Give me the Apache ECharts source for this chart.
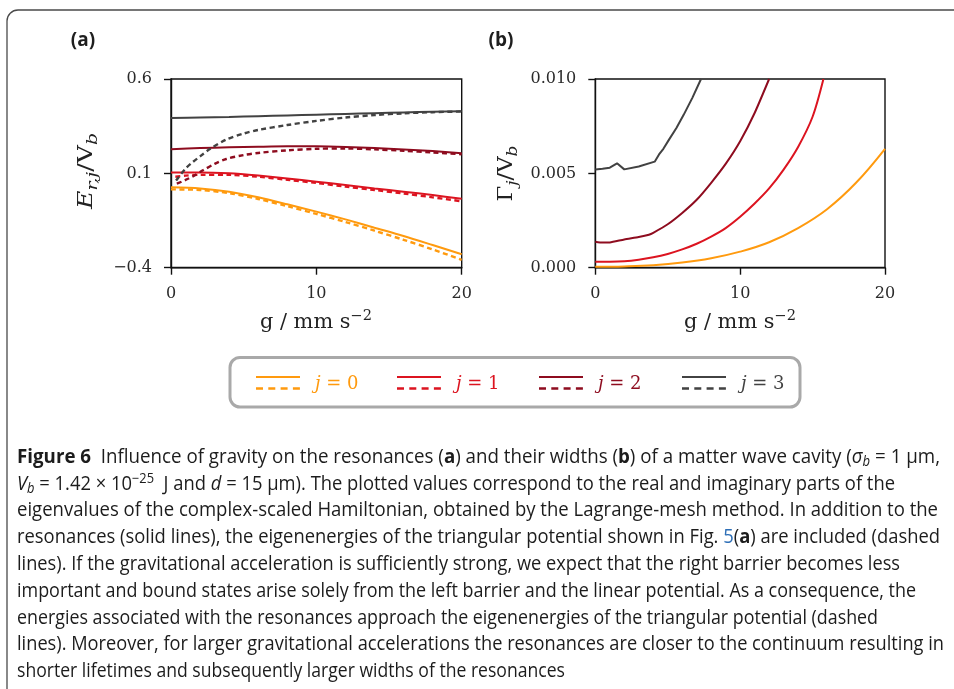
<!DOCTYPE html>
<html>
<head>
<meta charset="utf-8">
<script src="https://cdn.jsdelivr.net/npm/echarts@6/dist/echarts.min.js"></script>
<style>
  html, body { margin: 0; padding: 0; background: #fff; }
  #main { width: 954px; height: 689px; }
</style>
</head>
<body>
<div id="main"></div>
<script>
// ---- Panel (a): real parts E_{r,j}/V_b versus g (mm s^-2) ----
const gA = [0, 2, 4, 6, 8, 10, 12, 14, 16, 18, 20];
const e0Res = [0.026, 0.020, 0.003, -0.027, -0.064, -0.103, -0.144, -0.188, -0.232, -0.280, -0.329];
const e0Tri = [0.015, 0.012, -0.005, -0.036, -0.074, -0.115, -0.158, -0.204, -0.252, -0.303, -0.358];
const e1Res = [0.104, 0.105, 0.100, 0.088, 0.073, 0.056, 0.038, 0.020, 0.003, -0.015, -0.035];
const e2Res = [0.228, 0.234, 0.238, 0.241, 0.243, 0.243, 0.240, 0.234, 0.227, 0.218, 0.207];
const e3Res = [0.393, 0.396, 0.399, 0.403, 0.407, 0.411, 0.415, 0.419, 0.423, 0.426, 0.429];

const gTri1 = [0.3, 1, 2, 4, 6, 8, 10, 12, 14, 16, 18, 20];
const e1Tri = [0.082, 0.088, 0.092, 0.092, 0.082, 0.066, 0.049, 0.030, 0.012, -0.007, -0.027, -0.048];
const gTri2 = [0.4, 1, 1.5, 2.2, 3, 3.8, 5, 6, 8, 10, 12, 14, 16, 18, 20];
const e2Tri = [0.045, 0.065, 0.084, 0.116, 0.150, 0.176, 0.197, 0.208, 0.222, 0.230, 0.232, 0.227, 0.220, 0.211, 0.201];
const gTri3 = [0.35, 1, 1.5, 2, 2.7, 3.8, 5, 6, 8, 10, 12, 14, 16, 18, 20];
const e3Tri = [0.062, 0.125, 0.160, 0.190, 0.230, 0.279, 0.311, 0.330, 0.356, 0.378, 0.396, 0.409, 0.418, 0.424, 0.428];

// ---- Panel (b): widths Gamma_j/V_b versus g ----
const gW0 = [0, 2, 4, 6, 8, 10, 12, 14, 16, 18, 20];
const w0 = [0.00005, 0.00007, 0.00013, 0.00027, 0.0005, 0.00085, 0.00135, 0.0021, 0.0031, 0.0045, 0.0063];
const gW1 = [0, 1, 2, 3, 4, 5, 6, 7, 8, 9, 10, 11, 12, 13, 14, 15, 15.75];
const w1 = [0.00032, 0.00032, 0.00034, 0.00042, 0.00055, 0.00073, 0.00097, 0.00127, 0.00165, 0.0021, 0.0027, 0.0034, 0.0042, 0.0052, 0.0064, 0.0080, 0.0100];
const gW2 = [0, 0.5, 1, 2, 3, 3.7, 4, 5, 6, 7, 8, 9, 10, 11, 12];
const w2 = [0.00138, 0.00133, 0.00134, 0.0015, 0.00163, 0.00175, 0.00185, 0.0023, 0.0029, 0.0036, 0.0045, 0.0055, 0.0067, 0.0082, 0.0100];
const gW3 = [0, 0.5, 1, 1.5, 2, 3, 4.1, 4.4, 4.7, 5.1, 5.6, 6.1, 6.7, 7.3];
const w3 = [0.00521, 0.00524, 0.0053, 0.00553, 0.00521, 0.00536, 0.00562, 0.0060, 0.0063, 0.0068, 0.0074, 0.0081, 0.009, 0.0100];

// ---- Axis ticks ----
const xTicks = [0, 10, 20];
const yTicksA = [-0.4, 0.1, 0.6];
const yTicksB = [0.000, 0.005, 0.010];

// ---- Legend entries ----
const levels = ['0', '1', '2', '3'];
const colors = ['#ff9a0e', '#dc1420', '#8e0c1f', '#424242'];

// ---- Caption ----
const captionLines = [
  '{b|Figure 6}  Influence of gravity on the resonances ({b|a}) and their widths ({b|b}) of a matter wave cavity ({i|σ}{sub|b} = 1 μm,',
  '{i|V}{sub|b} = 1.42 × 10{sup|−25}  J and {i|d} = 15 μm). The plotted values correspond to the real and imaginary parts of the',
  'eigenvalues of the complex-scaled Hamiltonian, obtained by the Lagrange-mesh method. In addition to the',
  'resonances (solid lines), the eigenenergies of the triangular potential shown in Fig. {link|5}({b|a}) are included (dashed',
  'lines). If the gravitational acceleration is sufficiently strong, we expect that the right barrier becomes less',
  'important and bound states arise solely from the left barrier and the linear potential. As a consequence, the',
  'energies associated with the resonances approach the eigenenergies of the triangular potential (dashed',
  'lines). Moreover, for larger gravitational accelerations the resonances are closer to the continuum resulting in',
  'shorter lifetimes and subsequently larger widths of the resonances'
];
const captionRight = [940, 895, 938, 940, 900, 916, 878, 944, 565];

const pair = (xs, ys) => xs.map((x, i) => [x, ys[i]]);

const chart = echarts.init(document.getElementById('main'), null, { renderer: 'canvas' });

const serifFont = 'DejaVu Serif';
const tickLabel = (digits) => ({
  fontFamily: serifFont, fontSize: 16, color: '#2a2a2a',
  formatter: (v) => v.toFixed(digits).replace('-', '\u2212')
});

function xAxisFor(gridIndex) {
  return {
    type: 'value', gridIndex, min: 0, max: 20, interval: 10,
    axisLine: { show: true, onZero: false, lineStyle: { color: '#111', width: 1.4 } },
    axisTick: { show: true, length: 7, lineStyle: { color: '#111', width: 1.4 } },
    axisLabel: Object.assign({ margin: 18 }, tickLabel(0)),
    splitLine: { show: false }
  };
}
function yAxisFor(gridIndex, min, max, ticks, digits) {
  return {
    type: 'value', gridIndex, min, max,
    axisLine: { show: true, onZero: false, lineStyle: { color: '#111', width: 1.4 } },
    axisTick: { show: true, length: 7, customValues: ticks, lineStyle: { color: '#111', width: 1.4 } },
    axisLabel: Object.assign({ margin: 19, customValues: ticks }, tickLabel(digits)),
    splitLine: { show: false }
  };
}

function lineSeries(name, xi, data, color, dashed, smooth) {
  return {
    type: 'line', name, xAxisIndex: xi, yAxisIndex: xi,
    data, showSymbol: false, symbol: 'none', smooth: smooth, clip: true,
    lineStyle: { color, width: dashed ? 2.4 : 2, type: dashed ? [5, 3.5] : 'solid' },
    z: dashed ? 3 : 2
  };
}

const series = [
  lineSeries('j=0', 0, pair(gA, e0Res), colors[0], false, 0.3),
  lineSeries('j=0 tri', 0, pair(gA, e0Tri), colors[0], true, 0.3),
  lineSeries('j=1', 0, pair(gA, e1Res), colors[1], false, 0.3),
  lineSeries('j=1 tri', 0, pair(gTri1, e1Tri), colors[1], true, 0.3),
  lineSeries('j=2', 0, pair(gA, e2Res), colors[2], false, 0.3),
  lineSeries('j=2 tri', 0, pair(gTri2, e2Tri), colors[2], true, 0.3),
  lineSeries('j=3', 0, pair(gA, e3Res), colors[3], false, 0.3),
  lineSeries('j=3 tri', 0, pair(gTri3, e3Tri), colors[3], true, 0.3),
  lineSeries('w0', 1, pair(gW0, w0), colors[0], false, 0.4),
  lineSeries('w1', 1, pair(gW1, w1), colors[1], false, 0.3),
  lineSeries('w2', 1, pair(gW2, w2), colors[2], false, 0.2),
  lineSeries('w3', 1, pair(gW3, w3), colors[3], false, false)
];

// width of a rich string, measured token by token
const measureCtx = document.createElement('canvas').getContext('2d');
function fontOf(s) {
  return (s.fontStyle || 'normal') + ' ' + (s.fontWeight || 400) + ' ' + s.fontSize + 'px "' + s.fontFamily + '"';
}
function richWidth(t, base, rich) {
  const re = /\{(\w+)\|([^}]*)\}/g;
  let last = 0, w = 0, m;
  const add = (txt, font) => { measureCtx.font = font; w += measureCtx.measureText(txt).width; };
  while ((m = re.exec(t)) !== null) {
    if (m.index > last) add(t.slice(last, m.index), fontOf(base));
    add(m[2], fontOf(Object.assign({}, base, rich[m[1]])));
    last = re.lastIndex;
  }
  if (last < t.length) add(t.slice(last), fontOf(base));
  return w || 1;
}

// Rich styles for math-like labels
const mathBase = { fontFamily: serifFont, fontSize: 20 };
const mathRich = {
  it: { fontFamily: serifFont, fontStyle: 'italic', fontSize: 20, lineHeight: 28 },
  rm: { fontFamily: serifFont, fontSize: 20, lineHeight: 28 },
  sub: { fontFamily: serifFont, fontStyle: 'italic', fontSize: 15, lineHeight: 14, verticalAlign: 'bottom' },
  sup: { fontFamily: serifFont, fontSize: 14, lineHeight: 14, verticalAlign: 'top' }
};
function mathLabel(text, x, y, length, vertical) {
  const sx = length / richWidth(text, mathBase, mathRich);
  return {
    type: 'text', x, y, rotation: vertical ? Math.PI / 2 : 0, scaleX: sx,
    style: { text, rich: mathRich, fill: '#222', align: 'center', verticalAlign: 'middle' }
  };
}

const graphics = [];
// outer figure frame: a rounded box whose right and bottom edges lie off the page
graphics.push({
  type: 'rect', silent: true,
  shape: { x: 7, y: 10, width: 1200, height: 1200, r: 11 },
  style: { stroke: '#4a4a4a', lineWidth: 1.3, fill: 'none' }
});
// panel letters
graphics.push({ type: 'text', x: 83, y: 41, style: { text: '(a)', fontFamily: 'Open Sans', fontWeight: 'bold', fontSize: 19, fill: '#1e1e1e', align: 'center', verticalAlign: 'middle' } });
graphics.push({ type: 'text', x: 501, y: 41, style: { text: '(b)', fontFamily: 'Open Sans', fontWeight: 'bold', fontSize: 19, fill: '#1e1e1e', align: 'center', verticalAlign: 'middle' } });
// axis titles
const xName = '{rm|g / mm s}{sup|\u22122}';
graphics.push(mathLabel(xName, 316, 323, 112, false));
graphics.push(mathLabel(xName, 740, 323, 112, false));
graphics.push(mathLabel('{it|E}{sub|r,j}{rm|/V}{sub|b}', 87, 171, 76, true));
graphics.push(mathLabel('{rm|Γ}{sub|j}{rm|/V}{sub|b}', 507, 173.5, 56, true));

// legend box
graphics.push({
  type: 'rect', shape: { x: 230, y: 357.5, width: 570, height: 49.5, r: 10 },
  style: { fill: '#fff', stroke: '#a9a9a9', lineWidth: 3 }
});
const legendX = [256, 397, 539, 682];
levels.forEach((lv, i) => {
  const x0 = legendX[i];
  graphics.push({ type: 'line', shape: { x1: x0, y1: 377, x2: x0 + 44, y2: 377 }, style: { stroke: colors[i], lineWidth: 2.2 } });
  graphics.push({ type: 'line', shape: { x1: x0, y1: 388.5, x2: x0 + 44, y2: 388.5 }, style: { stroke: colors[i], lineWidth: 2.6, lineDash: [7, 5.3] } });
  graphics.push({
    type: 'text', x: x0 + 59, y: 384,
    style: {
      text: '{it|j}{rm| = ' + lv + '}', fill: colors[i], verticalAlign: 'middle',
      rich: { it: { fontFamily: serifFont, fontStyle: 'italic', fontSize: 18, fill: colors[i] }, rm: { fontFamily: serifFont, fontSize: 18, fill: colors[i] } }
    }
  });
});

// caption, each line compressed horizontally to the column width
const capFont = 'Open Sans';
const capSize = 20;
const capBase = { fontFamily: capFont, fontSize: capSize };
const capRich = {
  b: { fontFamily: capFont, fontWeight: 700, fontSize: capSize, lineHeight: 24 },
  i: { fontFamily: capFont, fontStyle: 'italic', fontSize: capSize, lineHeight: 24 },
  sub: { fontFamily: capFont, fontStyle: 'italic', fontSize: 14, lineHeight: 12, verticalAlign: 'bottom' },
  sup: { fontFamily: capFont, fontSize: 14, lineHeight: 12, verticalAlign: 'top' },
  link: { fontFamily: capFont, fontSize: capSize, lineHeight: 24, fill: '#2e6fb7' }
};
const capStyle = (t) => ({ text: t, fontFamily: capFont, fontSize: capSize, lineHeight: 24, fill: '#1c1c1c', rich: capRich, verticalAlign: 'middle' });

const capLeft = 17;
captionLines.forEach((t, k) => {
  const sx = (captionRight[k] - capLeft) / richWidth(t, capBase, capRich);
  graphics.push({ type: 'text', x: capLeft, y: 457 + k * 26.8, scaleX: sx, style: capStyle(t) });
});

chart.setOption({
  backgroundColor: '#fff',
  animation: false,
  grid: [
    { left: 171, top: 79, width: 290.7, height: 188.7, show: true, borderColor: '#111', borderWidth: 1.4, backgroundColor: 'transparent' },
    { left: 595.3, top: 79, width: 289.7, height: 188.7, show: true, borderColor: '#111', borderWidth: 1.4, backgroundColor: 'transparent' }
  ],
  xAxis: [xAxisFor(0), xAxisFor(1)],
  yAxis: [yAxisFor(0, -0.4, 0.6, yTicksA, 1), yAxisFor(1, 0, 0.010, yTicksB, 3)],
  series,
  graphic: graphics
});
</script>
</body>
</html>
